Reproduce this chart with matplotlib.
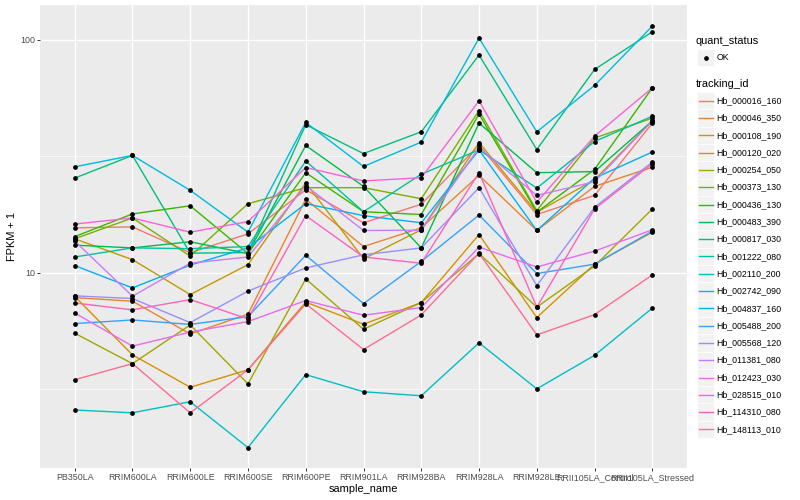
import numpy as np
import matplotlib.pyplot as plt
from matplotlib.lines import Line2D
from matplotlib.patches import Rectangle
from matplotlib.ticker import NullFormatter

plt.rcParams['font.family'] = ['Liberation Sans', 'DejaVu Sans']

samples = ["PB350LA", "RRIM600LA", "RRIM600LE", "RRIM600SE", "RRIM600PE", "RRIM901LA",
           "RRIM928BA", "RRIM928LA", "RRIM928LE", "RRII105LA_Control", "RRII105LA_Stressed"]

tracking_ids = ["Hb_000016_160", "Hb_000046_350", "Hb_000108_190", "Hb_000120_020",
                "Hb_000254_050", "Hb_000373_130", "Hb_000436_130", "Hb_000483_390",
                "Hb_000817_030", "Hb_001222_080", "Hb_002110_200", "Hb_002742_090",
                "Hb_004837_160", "Hb_005488_200", "Hb_005568_120", "Hb_011381_080",
                "Hb_012423_030", "Hb_028515_010", "Hb_114310_080", "Hb_148113_010"]

# FPKM + 1, one list per gene, in sample order
hb_000016_160 = [15.6, 15.75, 12.2, 14.7, 22.7, 16.4, 19.7, 35.3, 17.8, 21.5, 43.9]
hb_000046_350 = [7.83, 7.56, 5.47, 6.65, 20.7, 12.97, 15.6, 26.2, 15.2, 23.5, 28.4]
hb_000108_190 = [7.93, 4.45, 3.23, 3.84, 7.49, 6.02, 7.46, 14.6, 6.43, 10.9, 14.95]
hb_000120_020 = [14.0, 11.4, 8.07, 10.85, 24.3, 11.5, 15.3, 36.2, 18.2, 25.1, 44.9]
hb_000254_050 = [5.51, 4.08, 5.98, 3.34, 9.42, 5.73, 7.46, 12.1, 7.13, 10.7, 18.8]
hb_000373_130 = [14.0, 17.2, 11.8, 19.8, 23.2, 23.2, 20.8, 49.7, 18.5, 37.9, 46.1]
hb_000436_130 = [14.3, 17.9, 19.4, 12.1, 26.9, 18.3, 17.8, 48.0, 18.2, 27.8, 62.2]
hb_000483_390 = [13.15, 12.8, 13.6, 12.1, 35.2, 23.5, 12.8, 43.9, 26.9, 27.2, 44.9]
hb_000817_030 = [25.5, 31.9, 12.15, 12.22, 43.2, 32.5, 40.3, 86.0, 33.8, 74.6, 108.2]
hb_001222_080 = [11.7, 12.8, 12.7, 12.97, 30.2, 18.3, 26.5, 33.7, 23.1, 36.6, 47.0]
hb_002110_200 = [2.58, 2.51, 2.80, 1.78, 3.66, 3.09, 2.97, 5.01, 3.18, 4.43, 7.06]
hb_002742_090 = [28.5, 31.9, 22.6, 14.95, 44.2, 28.6, 36.4, 101.7, 40.3, 63.7, 114.5]
hb_004837_160 = [10.75, 8.62, 10.8, 12.8, 19.8, 17.6, 16.4, 33.7, 15.2, 25.5, 33.0]
hb_005488_200 = [6.06, 6.28, 6.01, 6.49, 11.9, 7.38, 11.2, 17.7, 9.93, 10.9, 15.1]
hb_005568_120 = [7.97, 7.76, 6.12, 8.35, 10.5, 11.95, 12.8, 23.2, 8.82, 19.1, 29.9]
hb_011381_080 = [13.7, 7.94, 11.0, 11.7, 23.7, 15.2, 15.25, 34.5, 21.5, 24.6, 44.9]
hb_012423_030 = [6.73, 4.85, 5.57, 6.18, 7.61, 6.58, 7.1, 12.9, 10.6, 12.4, 15.3]
hb_028515_010 = [16.2, 17.2, 14.95, 16.6, 28.3, 24.8, 25.6, 54.7, 20.1, 38.6, 62.2]
hb_114310_080 = [7.43, 6.94, 7.68, 6.35, 17.6, 11.7, 11.0, 26.9, 7.13, 18.8, 29.4]
hb_148113_010 = [3.48, 4.08, 2.51, 3.84, 7.36, 4.69, 6.6, 12.15, 5.42, 6.62, 9.80]

series = [hb_000016_160, hb_000046_350, hb_000108_190, hb_000120_020, hb_000254_050,
          hb_000373_130, hb_000436_130, hb_000483_390, hb_000817_030, hb_001222_080,
          hb_002110_200, hb_002742_090, hb_004837_160, hb_005488_200, hb_005568_120,
          hb_011381_080, hb_012423_030, hb_028515_010, hb_114310_080, hb_148113_010]

# ggplot2 default hue palette for 20 groups
colors = ["#F8766D", "#EA8331", "#D89000", "#C09B00", "#A3A500", "#7CAE00", "#39B600",
          "#00BB4E", "#00BF7D", "#00C1A3", "#00BFC4", "#00BAE0", "#00B0F6", "#35A2FF",
          "#9590FF", "#C77CFF", "#E76BF3", "#FA62DB", "#FF62BC", "#FF6C91"]

W, H = 800, 500
fig = plt.figure(figsize=(8, 5), dpi=100)
ax = fig.add_axes([40 / W, 1 - 468 / H, 647 / W, 463 / H])
ax.set_facecolor("#EBEBEB")

x = np.arange(len(samples))
for vals, c in zip(series, colors):
    ax.plot(x, vals, color=c, lw=1.0, zorder=3)
for vals in series:
    ax.plot(x, vals, ls="none", marker="o", ms=2.4, color="black", zorder=4)

ax.set_yscale("log")
ax.set_ylim(1.455, 141)
ax.set_xlim(-0.6, 10.6)
ax.set_xticks(x)
ax.set_xticklabels(samples)
ax.set_yticks([10, 100])
ax.set_yticklabels(["10", "100"])
ax.set_yticks([10 ** 0.5, 10 ** 1.5], minor=True)
ax.yaxis.set_minor_formatter(NullFormatter())
ax.tick_params(which="major", length=2.0, width=0.7, color="#333333",
               labelsize=6.4, labelcolor="#4D4D4D", pad=1.5)
ax.tick_params(which="minor", length=0)
ax.grid(which="major", color="white", lw=1.0)
ax.grid(which="minor", axis="y", color="white", lw=0.5)
ax.set_axisbelow(True)
for s in ax.spines.values():
    s.set_visible(False)

ax.set_xlabel("sample_name", fontsize=7.9, labelpad=1.2)
ax.set_ylabel("FPKM + 1", fontsize=7.9, labelpad=2)


def fx(px):
    return px / W


def fy(py):
    return 1 - py / H


# legend: quant_status
fig.text(fx(696), fy(40.7), "quant_status", fontsize=7.9, va="center", ha="left")
key = 17.3
fig.patches.append(Rectangle((fx(697), fy(57.5 + key / 2)), key / W, key / H,
                             transform=fig.transFigure, facecolor="#F2F2F2",
                             edgecolor="white", lw=0.5))
fig.lines.append(Line2D([fx(705.6)], [fy(57.5)], transform=fig.transFigure,
                        marker="o", ms=2.4, color="black", ls="none"))
fig.text(fx(716.7), fy(57.5), "OK", fontsize=6.3, va="center", ha="left")

# legend: tracking_id
fig.text(fx(696), fy(84.3), "tracking_id", fontsize=7.9, va="center", ha="left")
for i, (name, c) in enumerate(zip(tracking_ids, colors)):
    yc = 100.7 + key * i
    fig.patches.append(Rectangle((fx(697), fy(yc + key / 2)), key / W, key / H,
                                 transform=fig.transFigure, facecolor="#F2F2F2",
                                 edgecolor="white", lw=0.5))
    fig.lines.append(Line2D([fx(699), fx(712.5)], [fy(yc), fy(yc)],
                            transform=fig.transFigure, color=c, lw=1.0))
    fig.text(fx(716.7), fy(yc), name, fontsize=6.3, va="center", ha="left")

fig.savefig("out.png", dpi=100)
